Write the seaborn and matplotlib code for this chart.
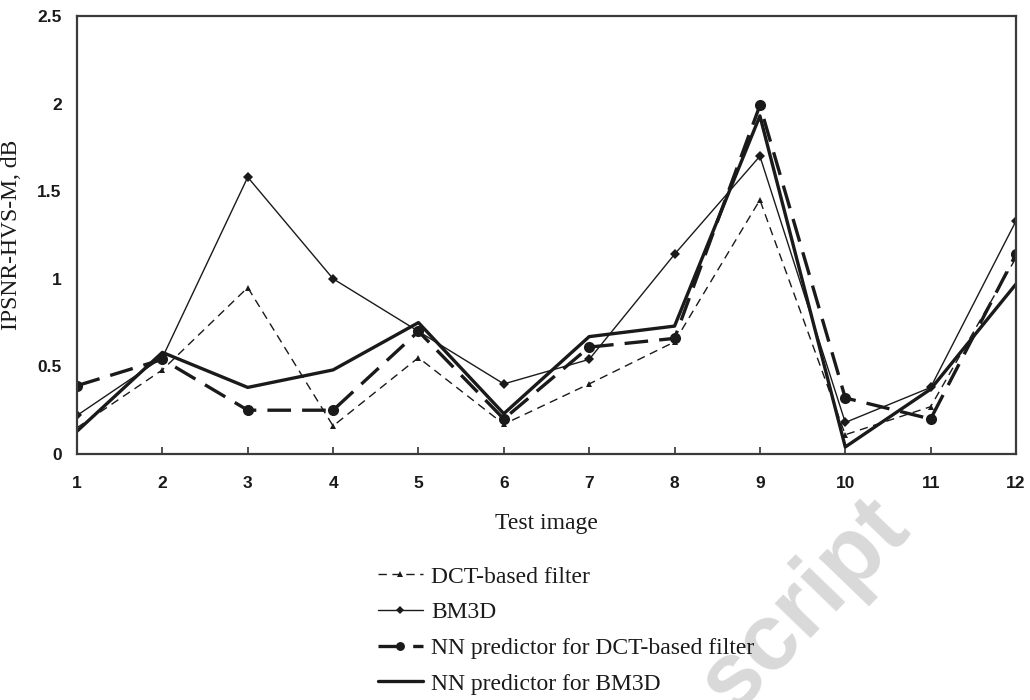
import matplotlib
matplotlib.use("Agg")
import matplotlib.pyplot as plt
import seaborn as sns
import pandas as pd
from matplotlib.lines import Line2D

# Test images and per-image improvement of PSNR-HVS-M (dB)
test_images = [1, 2, 3, 4, 5, 6, 7, 8, 9, 10, 11, 12]
dct_filter = [0.15, 0.48, 0.95, 0.16, 0.55, 0.17, 0.40, 0.64, 1.45, 0.11, 0.27, 1.12]
bm3d = [0.22, 0.55, 1.58, 1.00, 0.70, 0.40, 0.54, 1.14, 1.70, 0.18, 0.38, 1.33]
nn_dct = [0.39, 0.54, 0.25, 0.25, 0.70, 0.20, 0.61, 0.66, 1.99, 0.32, 0.20, 1.14]
nn_bm3d = [0.13, 0.58, 0.38, 0.48, 0.75, 0.23, 0.67, 0.73, 1.93, 0.04, 0.37, 0.97]

series_names = [
    "DCT-based filter",
    "BM3D",
    "NN predictor for DCT-based filter",
    "NN predictor for BM3D",
]
y_ticks = [0, 0.5, 1, 1.5, 2, 2.5]
y_tick_labels = ["0", "0.5", "1", "1.5", "2", "2.5"]

sns.set_theme(style="white")
plt.rcParams["lines.scale_dashes"] = False

df = pd.DataFrame({
    "image": test_images * 4,
    "value": dct_filter + bm3d + nn_dct + nn_bm3d,
    "series": sum([[n] * len(test_images) for n in series_names], []),
})

styles = {
    "DCT-based filter": dict(color="#1a1a1a", lw=1.0, ls=(0, (6, 4)),
                             marker="^", ms=5),
    "BM3D": dict(color="#1a1a1a", lw=1.0, ls="-", marker="D", ms=5),
    "NN predictor for DCT-based filter": dict(color="#1a1a1a", lw=2.4,
                                              ls=(0, (17, 8)), marker="o", ms=8),
    "NN predictor for BM3D": dict(color="#1a1a1a", lw=2.4, ls="-",
                                  marker=None, ms=0),
}

fig = plt.figure(figsize=(10.3, 7.0), dpi=100)
ax = fig.add_axes([77 / 1030, 1 - 454 / 700, (1016 - 77) / 1030, (454 - 16) / 700])

for name in series_names:
    st = styles[name]
    sub = df[df["series"] == name]
    sns.lineplot(data=sub, x="image", y="value", ax=ax, color=st["color"],
                 linewidth=st["lw"], linestyle=st["ls"], marker=st["marker"],
                 markersize=st["ms"], markeredgewidth=0, legend=False,
                 errorbar=None, sort=False)

ax.set_xlim(1, 12)
ax.set_ylim(0, 2.5)
ax.set_xticks(test_images)
ax.set_xticklabels([str(i) for i in test_images])
ax.set_yticks(y_ticks)
ax.set_yticklabels(y_tick_labels)

for lab in ax.get_xticklabels() + ax.get_yticklabels():
    lab.set_fontfamily("Liberation Sans")
    lab.set_fontweight("bold")
    lab.set_fontsize(12.5)
    lab.set_color("#1a1a1a")

ax.tick_params(axis="x", direction="in", length=5, width=1.2, color="#333333",
               pad=15.5, bottom=True)
ax.tick_params(axis="y", length=0, pad=11)

for sp in ax.spines.values():
    sp.set_color("#3a3a3a")
    sp.set_linewidth(1.6)

ax.set_xlabel("Test image", fontfamily="Liberation Serif", fontsize=17,
              color="#1a1a1a", labelpad=16)
ax.set_ylabel("IPSNR-HVS-M, dB", fontfamily="Liberation Serif", fontsize=17,
              color="#1a1a1a")
ax.yaxis.set_label_coords(-55 / (1016 - 77), 0.5)

handles = []
for name in series_names:
    st = styles[name]
    handles.append(Line2D([], [], color=st["color"], lw=st["lw"], ls=st["ls"],
                          marker=st["marker"], ms=st["ms"] * 0.8,
                          markeredgewidth=0))
fig.legend(handles, series_names, loc="upper left",
           bbox_to_anchor=(378 / 1030, 1 - 566 / 700), frameon=False,
           prop={"family": "Liberation Serif", "size": 17},
           handlelength=1.9, handletextpad=0.35, labelspacing=0.6,
           borderpad=0, borderaxespad=0, numpoints=1, labelcolor="#1a1a1a")

# Publisher watermark fragment in the lower right
fig.text(805 / 1030, 1 - 605 / 700, "script", fontfamily="Liberation Sans",
         fontweight="bold", fontsize=68, color="#d9d9d9", rotation=46,
         ha="center", va="center", zorder=-5)

fig.savefig("out.png", dpi=100, facecolor="white")
